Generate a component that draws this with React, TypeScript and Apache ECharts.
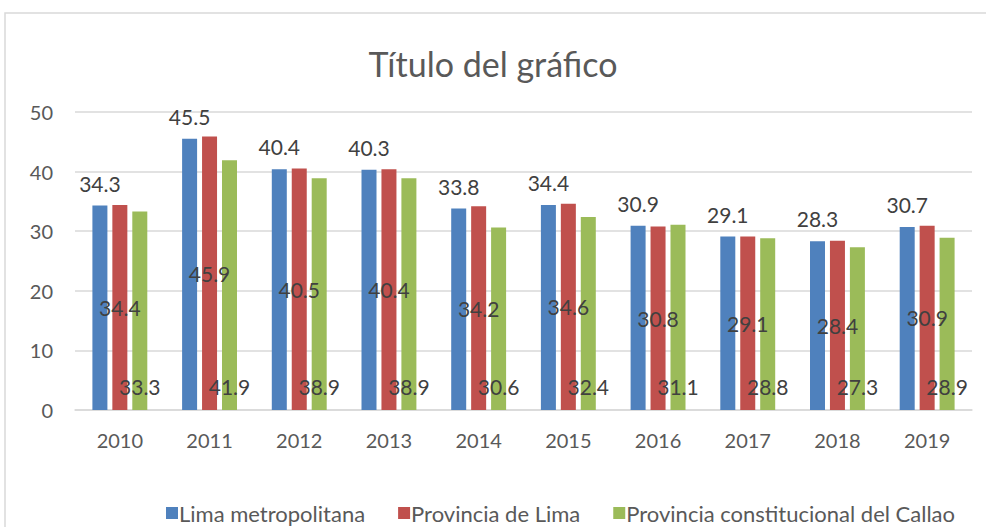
import React, { useEffect, useRef } from "react";
import * as echarts from "echarts";

const categories = ["2010", "2011", "2012", "2013", "2014", "2015", "2016", "2017", "2018", "2019"];
const limaMetropolitana = [34.3, 45.5, 40.4, 40.3, 33.8, 34.4, 30.9, 29.1, 28.3, 30.7];
const provinciaLima = [34.4, 45.9, 40.5, 40.4, 34.2, 34.6, 30.8, 29.1, 28.4, 30.9];
const callao = [33.3, 41.9, 38.9, 38.9, 30.6, 32.4, 31.1, 28.8, 27.3, 28.9];
const seriesNames = ["Lima metropolitana", "Provincia de Lima", "Provincia constitucional del Callao"];

const FONT = "Lato";

export default function App() {
  const ref = useRef<HTMLDivElement>(null);
  useEffect(() => {
    const chart = echarts.init(ref.current!, undefined, { renderer: "svg" });
    const labelStyle = { color: "#404040", fontSize: 21, fontFamily: FONT };
    chart.setOption({
      animation: false,
      backgroundColor: "#ffffff",
      title: {
        text: "Título del gráfico",
        left: "center",
        top: 41,
        textStyle: { color: "#595959", fontSize: 34, fontWeight: "normal", fontFamily: FONT },
      },
      graphic: [
        {
          type: "rect",
          shape: { x: 5, y: 13, width: 1000, height: 540 },
          style: { fill: "none", stroke: "#d9d9d9", lineWidth: 1.5 },
          silent: true,
        },
      ],
      legend: {
        bottom: 3,
        left: 166,
        width: 900,
        padding: 0,
        itemWidth: 12,
        itemHeight: 12,
        itemGap: 33,
        icon: "rect",
        textStyle: { color: "#595959", fontSize: 22, fontFamily: FONT, padding: [0, 0, 0, -4] },
        data: seriesNames,
      },
      grid: { left: 75, right: 14, top: 112, bottom: 117 },
      xAxis: {
        type: "category",
        data: categories,
        axisLine: { lineStyle: { color: "#d9d9d9", width: 1.5 } },
        axisTick: { show: false },
        axisLabel: { color: "#595959", fontSize: 20, fontFamily: FONT, margin: 20 },
      },
      yAxis: {
        type: "value",
        min: 0,
        max: 50,
        interval: 10,
        axisLine: { show: false },
        axisTick: { show: false },
        axisLabel: { color: "#595959", fontSize: 20, fontFamily: FONT, margin: 22 },
        splitLine: { lineStyle: { color: "#d9d9d9", width: 1.5 } },
      },
      series: [
        {
          name: seriesNames[0],
          type: "bar",
          data: limaMetropolitana,
          barWidth: 15,
          barGap: "33%",
          itemStyle: { color: "#4F81BD" },
          label: { show: true, position: "top", distance: 12, ...labelStyle },
        },
        {
          name: seriesNames[1],
          type: "bar",
          data: provinciaLima,
          barWidth: 15,
          barGap: "33%",
          itemStyle: { color: "#C0504D" },
          label: { show: true, position: "inside", ...labelStyle },
        },
        {
          name: seriesNames[2],
          type: "bar",
          data: callao,
          barWidth: 15,
          barGap: "33%",
          itemStyle: { color: "#9BBB59" },
          label: { show: true, position: "insideBottom", distance: 13, ...labelStyle },
        },
      ],
    });
    return () => chart.dispose();
  }, []);
  return <div ref={ref} style={{ width: 986, height: 527, position: "absolute", left: 0, top: 0 }} />;
}
